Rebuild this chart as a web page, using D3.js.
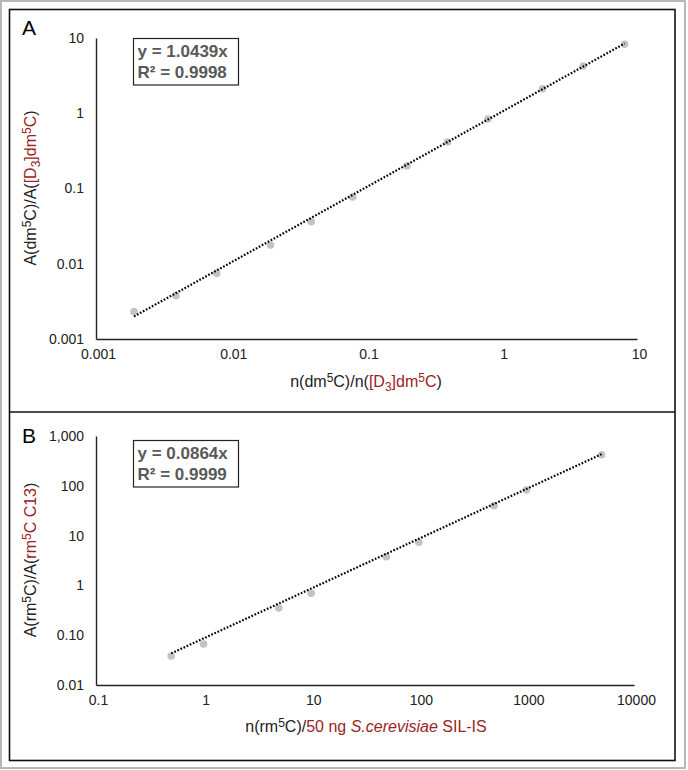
<!DOCTYPE html>
<html><head><meta charset="utf-8">
<script src="https://cdn.jsdelivr.net/npm/d3@7"></script>
<style>body{margin:0;background:#fff}svg{display:block;font-family:"Liberation Sans",Arial,sans-serif}</style>
</head><body>
<svg id="c" width="688" height="770"></svg>
<script>
// Panel A data
const aX = [0.00191, 0.0039, 0.0078, 0.0195, 0.039, 0.079, 0.199, 0.398, 0.79, 2.0, 4.0, 8.1];
const aY = [0.00231, 0.00377, 0.00746, 0.0177, 0.0362, 0.0771, 0.199, 0.415, 0.84, 2.12, 4.25, 8.25];
const aSlope = 1.0439;
const aXTicks = [0.001, 0.01, 0.1, 1, 10];
const aXTickLabels = ["0.001", "0.01", "0.1", "1", "10"];
const aYTicks = [0.001, 0.01, 0.1, 1, 10];
const aYTickLabels = ["0.001", "0.01", "0.1", "1", "10"];
const aEq = ["y = 1.0439x", "R² = 0.9998"];
// Panel B data
const bX = [0.5, 1, 5, 10, 50, 100, 500, 1000, 5000];
const bY = [0.0382, 0.0665, 0.351, 0.693, 3.77, 7.33, 39.8, 82.4, 420];
const bSlope = 0.0864;
const bXTicks = [0.1, 1, 10, 100, 1000, 10000];
const bXTickLabels = ["0.1", "1", "10", "100", "1000", "10000"];
const bYTicks = [0.01, 0.1, 1, 10, 100, 1000];
const bYTickLabels = ["0.01", "0.10", "1", "10", "100", "1,000"];
const bEq = ["y = 0.0864x", "R² = 0.9999"];

const RED = "#9b2323";
const svg = d3.select("#c");

// frames
svg.append("rect").attr("x",1).attr("y",1).attr("width",684).attr("height",767)
  .attr("fill","none").attr("stroke","#b8b8b8").attr("stroke-width",2);
svg.append("rect").attr("x",9.5).attr("y",9.5).attr("width",665.5).attr("height",751)
  .attr("fill","none").attr("stroke","#111").attr("stroke-width",1.6);
svg.append("line").attr("x1",9.5).attr("x2",675).attr("y1",412).attr("y2",412)
  .attr("stroke","#111").attr("stroke-width",1.6);

function panel(o){
  const x = d3.scaleLog().domain(o.xd).range([o.x0, o.x1]);
  const y = d3.scaleLog().domain(o.yd).range([o.y1, o.y0]);
  const g = svg.append("g");
  const xa = g.append("g").attr("transform",`translate(0,${o.y1})`)
    .call(d3.axisBottom(x).tickValues(o.xt).tickFormat((d,i)=>o.xtl[i]).tickSize(0).tickPadding(10));
  const ya = g.append("g").attr("transform",`translate(${o.x0},0)`)
    .call(d3.axisLeft(y).tickValues(o.yt).tickFormat((d,i)=>o.ytl[i]).tickSize(0).tickPadding(12));
  [xa,ya].forEach(a=>{
    a.select(".domain").attr("stroke","#222").attr("stroke-width",1.4);
    a.selectAll("text").attr("font-size",14).attr("fill","#222").attr("font-family","Liberation Sans, Arial, sans-serif");
  });
  xa.selectAll("text").attr("dx", 2);
  g.selectAll("circle.p").data(o.xs).join("circle")
    .attr("cx",d=>x(d)).attr("cy",(d,i)=>y(o.ys[i])).attr("r",3.8).attr("fill","#c3c3c3");
  const xmin = d3.min(o.xs), xmax = d3.max(o.xs);
  g.append("line").attr("x1",x(xmin)).attr("y1",y(o.slope*xmin))
    .attr("x2",x(xmax)).attr("y2",y(o.slope*xmax))
    .attr("stroke","#000").attr("stroke-width",2.2).attr("stroke-dasharray","1.7,1.7");
  g.append("rect").attr("x",133.5).attr("y",o.boxY).attr("width",105).attr("height",46.5)
    .attr("fill","#fff").attr("stroke","#222").attr("stroke-width",1.2);
  o.eq.forEach((t,i)=>g.append("text").attr("x",137.5).attr("y",o.boxY+18.5+i*21)
    .attr("font-size",17).attr("font-weight","bold").attr("fill","#595959").text(t));
  g.append("text").attr("x",22).attr("y",o.letterY).attr("font-size",21).attr("fill","#000").text(o.letter);
  return {x,y,g};
}

panel({xd:[0.001,10], yd:[0.001,10], x0:96, x1:637, y0:38, y1:339,
  xs:aX, ys:aY, slope:aSlope, xt:aXTicks, xtl:aXTickLabels, yt:aYTicks, ytl:aYTickLabels,
  eq:aEq, boxY:38.5, letter:"A", letterY:35});
panel({xd:[0.1,10000], yd:[0.01,1000], x0:96, x1:634, y0:436, y1:685,
  xs:bX, ys:bY, slope:bSlope, xt:bXTicks, xtl:bXTickLabels, yt:bYTicks, ytl:bYTickLabels,
  eq:bEq, boxY:440.5, letter:"B", letterY:443});

function rich(t, segs){
  segs.forEach(s=>{
    const ts = t.append("tspan").text(s[0]).attr("fill", s[1]);
    if (s[2]==="sup") ts.attr("baseline-shift","40%").attr("font-size",12);
    if (s[2]==="sub") ts.attr("baseline-shift","-30%").attr("font-size",12);
    if (s[2]==="it") ts.attr("font-style","italic");
  });
}
const K="#222";
let t = svg.append("text").attr("text-anchor","middle").attr("font-size",16)
  .attr("transform","translate(36,188) rotate(-90)");
rich(t, [["A(dm",K],["5",K,"sup"],["C)/A(",K],["[D",RED],["3",RED,"sub"],["]dm",RED],["5",RED,"sup"],["C",RED],[")",K]]);
t = svg.append("text").attr("text-anchor","middle").attr("font-size",16).attr("x",366).attr("y",387);
rich(t, [["n(dm",K],["5",K,"sup"],["C)/n(",K],["[D",RED],["3",RED,"sub"],["]dm",RED],["5",RED,"sup"],["C",RED],[")",K]]);
t = svg.append("text").attr("text-anchor","middle").attr("font-size",16)
  .attr("transform","translate(36,560) rotate(-90)");
rich(t, [["A(rm",K],["5",K,"sup"],["C)/A(",K],["rm",RED],["5",RED,"sup"],["C C13",RED],[")",K]]);
t = svg.append("text").attr("text-anchor","middle").attr("font-size",16).attr("x",366).attr("y",732);
rich(t, [["n(rm",K],["5",K,"sup"],["C)/",K],["50 ng ",RED],["S.cerevisiae",RED,"it"],[" SIL-IS",RED]]);
</script>
</body></html>
